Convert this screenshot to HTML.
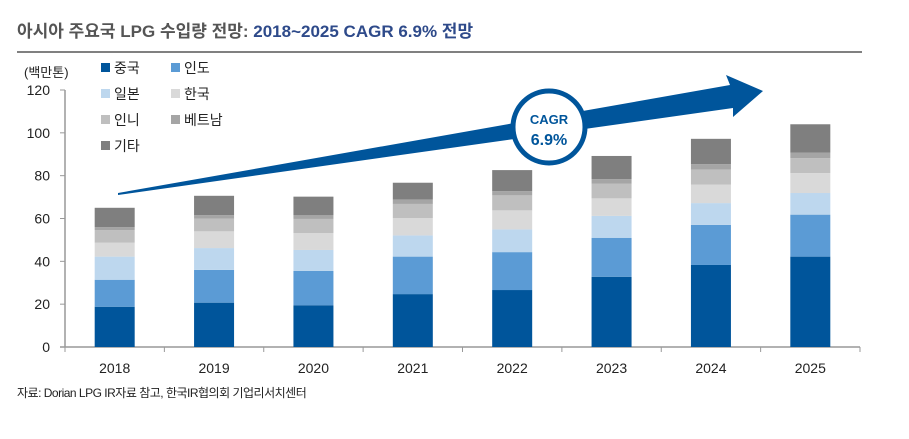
<!DOCTYPE html>
<html><head><meta charset="utf-8"><style>
body{margin:0;background:#fff;width:909px;height:434px;overflow:hidden;font-family:"Liberation Sans","Noto Sans CJK KR",sans-serif}
</style></head><body>
<svg width="909" height="434" id="svg" style="font-family:'Liberation Sans','Noto Sans CJK KR',sans-serif">
<text x="17" y="37" font-size="17" font-weight="bold"><tspan fill="#555">아시아 주요국 LPG 수입량 전망: </tspan><tspan fill="#2e4a8a">2018~2025 CAGR 6.9% 전망</tspan></text>
<line x1="17" y1="52" x2="862" y2="52" stroke="#808080" stroke-width="2"/>
<text x="24" y="77" font-size="13" fill="#222">(백만톤)</text>
<g id="legend"></g>
<g id="axis"></g>
<g id="bars"></g>
<polygon points="118,193 730,85 726,75 763,91 733,117 733,108 118,195" fill="#00559b"/>
<circle cx="549" cy="127" r="36" fill="#fff" stroke="#00559b" stroke-width="5"/>
<text x="549" y="124" font-size="13" font-weight="bold" fill="#00559b" text-anchor="middle">CAGR</text>
<text x="549" y="145" font-size="16" font-weight="bold" fill="#00559b" text-anchor="middle">6.9%</text>
<text x="17" y="397" font-size="12" fill="#222" letter-spacing="-0.5">자료: Dorian LPG IR자료 참고, 한국IR협의회 기업리서치센터</text>
</svg>
<script>
const categories=["2018","2019","2020","2021","2022","2023","2024","2025"];
const seriesNames=["중국","인도","일본","한국","인니","베트남","기타"];
const china=[18.8,20.7,19.5,24.7,26.6,32.8,38.3,42.2];
const india=[12.6,15.3,16.0,17.5,17.7,18.2,18.7,19.6];
const japan=[10.8,10.2,9.8,9.9,10.6,10.2,10.2,10.1];
const korea=[6.5,7.8,7.9,8.1,8.9,8.2,8.6,9.3];
const indonesia=[5.9,5.9,6.6,6.6,7.0,6.8,7.1,7.0];
const vietnam=[1.4,1.7,1.7,2.1,2.0,2.2,2.5,2.5];
const other=[9.0,9.0,8.7,7.8,9.8,10.8,11.8,13.3];
const yTicks=[0,20,40,60,80,100,120];
const colors=["#00559b","#5b9bd5","#bdd7ee","#d9d9d9","#bfbfbf","#a5a5a5","#7f7f7f"];
const series=[china,india,japan,korea,indonesia,vietnam,other];
const NS="http://www.w3.org/2000/svg";
const x0=65,x1=860,yb=347,yt=90,ymax=120;
const y=v=>yb-(v/ymax)*(yb-yt);
const band=(x1-x0)/categories.length;
const xc=i=>x0+band*(i+0.5);
function mk(t,a,p){const e=document.createElementNS(NS,t);for(const k in a)e.setAttribute(k,a[k]);p.appendChild(e);return e;}
const ax=document.getElementById('axis');
const l=mk('line',{x1:x0,y1:yt,x2:x0,y2:yb,stroke:'#999','stroke-width':1.5},ax);


const bl=mk('line',{x1:x0-5,y1:yb,x2:x1,y2:yb,stroke:'#999','stroke-width':1.5},ax);


yTicks.forEach(v=>{
 mk('line',{x1:x0-5,y1:y(v),x2:x0,y2:y(v),stroke:'#999'},ax);
 const t=mk('text',{x:50,y:y(v)+5,'font-size':14,'text-anchor':'end',fill:'#222'},ax);t.textContent=v;
 
 
});
for(let i=0;i<=categories.length;i++){mk('line',{x1:x0+band*i,y1:yb,x2:x0+band*i,y2:yb+5,stroke:'#999'},ax);}
const bg=document.getElementById('bars');
categories.forEach((c,i)=>{
 let acc=0;
 series.forEach((s,k)=>{
  const r=mk('rect',{x:xc(i)-20,y:y(acc+s[i]),width:40,height:y(acc)-y(acc+s[i]),fill:colors[k]},bg);
  
  
  acc+=s[i];
 });
 const t=mk('text',{x:xc(i),y:373,'font-size':14,'text-anchor':'middle',fill:'#222'},bg);t.textContent=c;
 
 
});
const lg=document.getElementById('legend');
seriesNames.forEach((n,k)=>{
 const lx=101+(k%2)*70, ly=68+Math.floor(k/2)*26;
 const r=mk('rect',{x:lx,y:ly-5,width:9,height:9,fill:colors[k]},lg);
 
 
 const t=mk('text',{x:lx+13,y:ly+5,'font-size':14,fill:'#222'},lg);t.textContent=n;
 
 
});
</script>
</body></html>
